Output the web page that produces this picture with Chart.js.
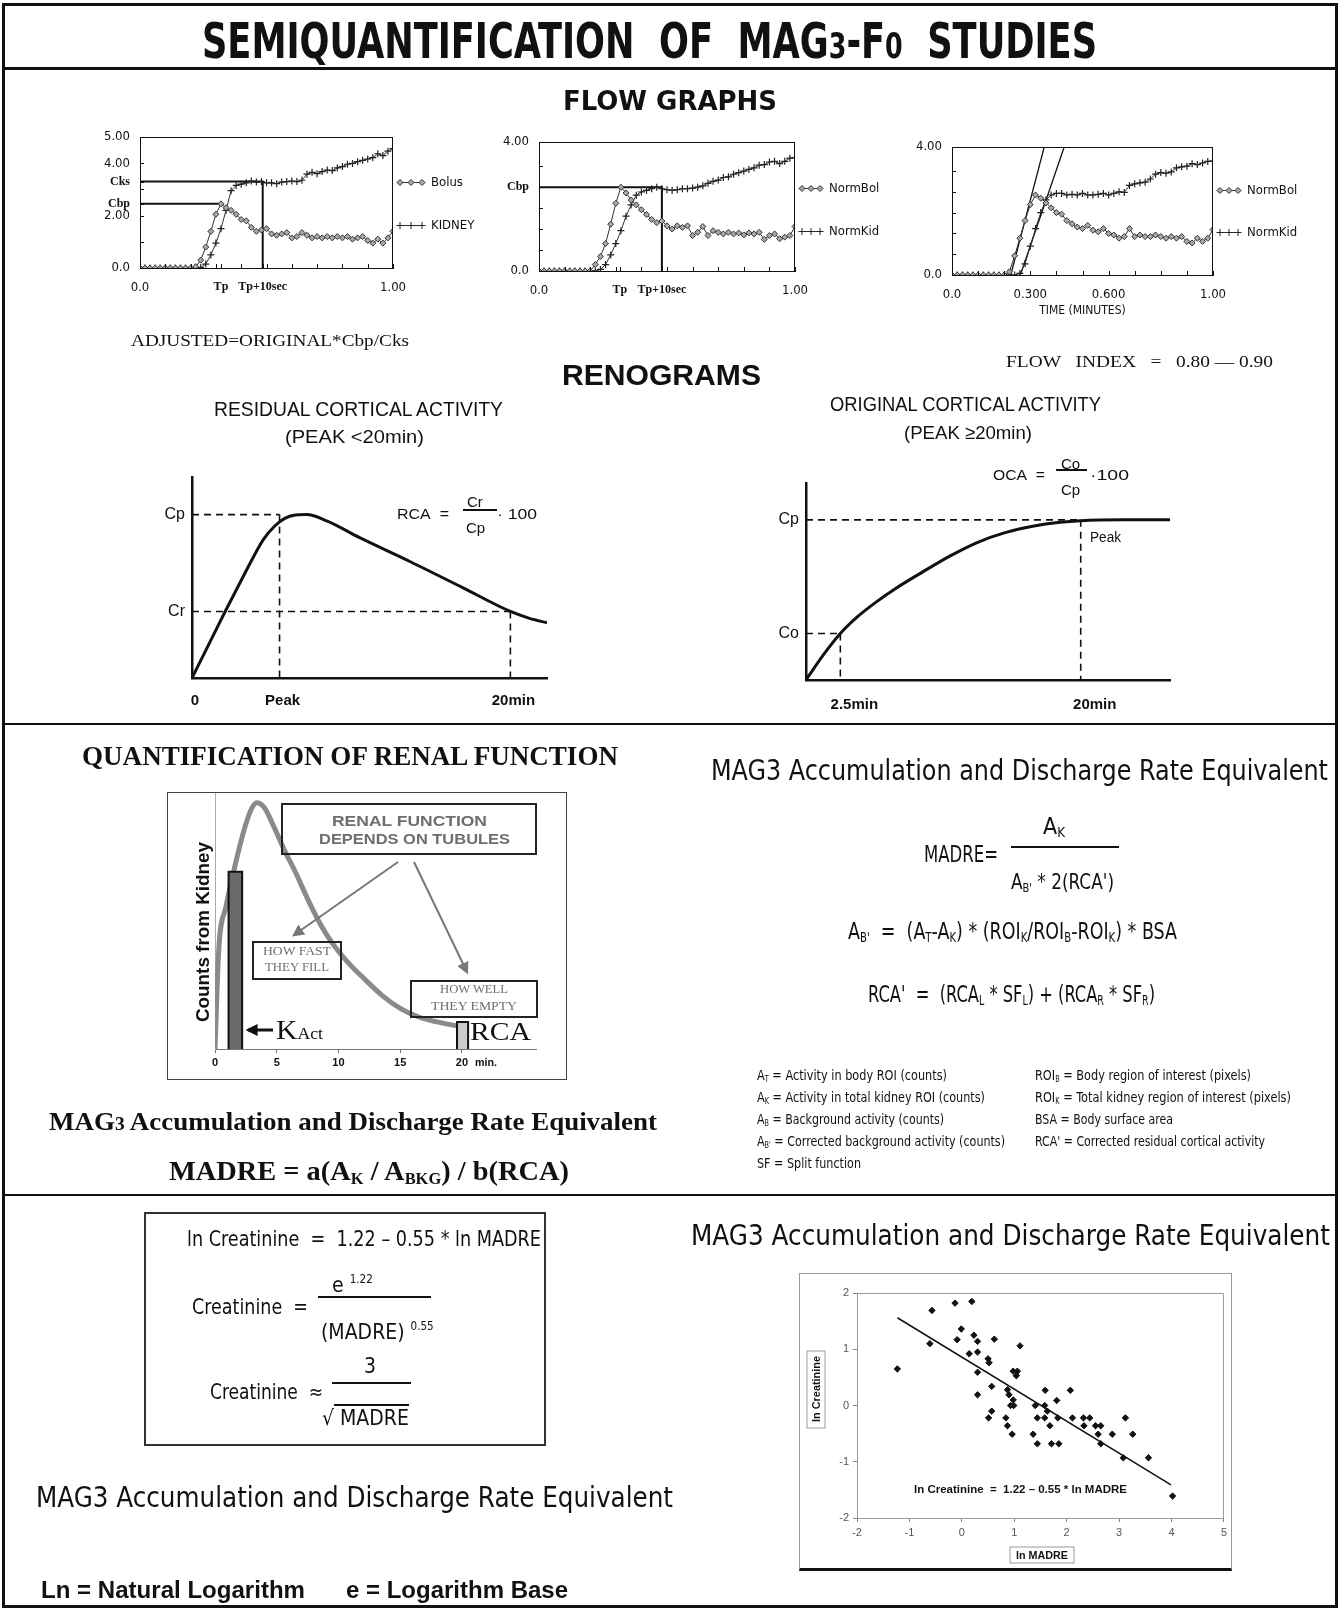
<!DOCTYPE html>
<html lang="en">
<head>
<meta charset="UTF-8">
<title>Semiquantification of MAG3-F0 Studies</title>
<script src="https://cdn.jsdelivr.net/npm/chart.js@4.4.1/dist/chart.umd.min.js"></script>
<style>
  body { margin: 0; background: #fff; }
  #page { position: relative; width: 1340px; height: 1610px; overflow: hidden; background: #fff; color: #111;
          font-family: "Liberation Sans", Arial, sans-serif; }
  #page canvas { position: absolute; }
  .t { position: absolute; white-space: nowrap; line-height: 1; transform-origin: 0 50%; }
  .t sub { font-size: 58%; vertical-align: -0.25em; line-height: 0; }
  .t sup { font-size: 55%; vertical-align: 0.75em; line-height: 0; }
  .ln { position: absolute; background: #111; }
  .frame { position: absolute; box-sizing: border-box; }
  .narrow { font-family: "Liberation Sans Narrow", "DejaVu Sans Condensed", sans-serif; font-weight: bold; }
  .sans { font-family: "Liberation Sans", Arial, sans-serif; }
  .sansb { font-family: "Liberation Sans", Arial, sans-serif; font-weight: bold; }
  .serif { font-family: "Liberation Serif", "DejaVu Serif", serif; }
  .serifb { font-family: "Liberation Serif", "DejaVu Serif", serif; font-weight: bold; }
  .tah { font-family: "DejaVu Sans Condensed", "DejaVu Sans", sans-serif; }
  .gray { color: #6e6e6e; }
</style>
</head>
<body>
<div id="page">
  <!-- outer frame and section rules -->
  <div class="frame" style="left:2px;top:3px;width:1336px;height:1605px;border:3px solid #111"></div>
  <div class="ln" style="left:2px;top:67px;width:1336px;height:3px"></div>
  <div class="ln" style="left:2px;top:723px;width:1336px;height:2px"></div>
  <div class="ln" style="left:2px;top:1194px;width:1336px;height:2px"></div>
  <div class="frame" style="left:167px;top:792px;width:400px;height:288px;border:1px solid #444"></div>
  <div class="frame" style="left:144px;top:1212px;width:402px;height:234px;border:2px solid #333"></div>
  <div class="frame" style="left:799px;top:1273px;width:433px;height:298px;border:1px solid #999;border-bottom:3px solid #111"></div>

  <canvas id="flow1" width="380" height="184" style="left:95px;top:118px"></canvas>
  <canvas id="flow2" width="400" height="184" style="left:494px;top:123px"></canvas>
  <canvas id="flow3" width="425" height="194" style="left:907px;top:128px"></canvas>
  <canvas id="reno1" width="405" height="255" style="left:150px;top:460px"></canvas>
  <canvas id="reno2" width="420" height="254" style="left:760px;top:466px"></canvas>
  <canvas id="quant" width="398" height="286" style="left:168px;top:793px"></canvas>
  <canvas id="scatter" width="431" height="292" style="left:800px;top:1274px"></canvas>

  <svg width="1340" height="1610" style="position:absolute;left:0;top:0;pointer-events:none">
    <defs>
      <marker id="ahGray" viewBox="0 0 10 10" refX="8" refY="5" markerWidth="6" markerHeight="6" orient="auto">
        <path d="M0,0 L10,5 L0,10 z" fill="#777"/>
      </marker>
      <marker id="ahBlack" viewBox="0 0 10 10" refX="8" refY="5" markerWidth="4" markerHeight="4" orient="auto">
        <path d="M0,0 L10,5 L0,10 z" fill="#111"/>
      </marker>
    </defs>
    <rect x="282" y="804" width="254" height="50" fill="none" stroke="#222" stroke-width="2"/>
    <rect x="253" y="942" width="88" height="37" fill="none" stroke="#222" stroke-width="2"/>
    <rect x="411" y="981" width="126" height="36" fill="none" stroke="#222" stroke-width="2"/>
    <line x1="398" y1="862" x2="294" y2="935" stroke="#777" stroke-width="2" marker-end="url(#ahGray)"/>
    <line x1="414" y1="862" x2="467" y2="972" stroke="#777" stroke-width="2" marker-end="url(#ahGray)"/>
    <line x1="273" y1="1030" x2="248" y2="1030" stroke="#111" stroke-width="3" marker-end="url(#ahBlack)"/>
    <rect x="1010" y="1547" width="64" height="16" fill="none" stroke="#999" stroke-width="1"/>
    <rect x="807" y="1351" width="18" height="77" fill="none" stroke="#999" stroke-width="1"/>
  </svg>
</div>

<script>
// ---------- flow graphs (time in minutes, counts) ----------
const flowTime = [0, 0.02, 0.04, 0.06, 0.08, 0.1, 0.12, 0.14, 0.16, 0.18, 0.2, 0.22, 0.24, 0.26, 0.28, 0.3,
  0.32, 0.34, 0.36, 0.38, 0.4, 0.42, 0.44, 0.46, 0.48, 0.5, 0.52, 0.54, 0.56, 0.58, 0.6, 0.62, 0.64, 0.66,
  0.68, 0.7, 0.72, 0.74, 0.76, 0.78, 0.8, 0.82, 0.84, 0.86, 0.88, 0.9, 0.92, 0.94, 0.96, 0.98, 1];
const flowMinor = [0, 0.1, 0.2, 0.3, 0.4, 0.5, 0.6, 0.7, 0.8, 0.9, 1];

const bolus1 = [0, 0, 0, 0, 0, 0, 0, 0, 0, 0, 0, 0.05, 0.3, 0.8, 1.4, 2.05, 2.45, 2.3, 2.2, 2.05, 1.85,
  1.8, 1.55, 1.4, 1.45, 1.5, 1.3, 1.25, 1.3, 1.35, 1.15, 1.2, 1.35, 1.25, 1.15, 1.2, 1.15, 1.2, 1.15, 1.2,
  1.15, 1.2, 1.1, 1.15, 1.2, 1.05, 0.95, 1.1, 0.95, 1.15, 1.4];
const kidney1 = [0, 0, 0, 0, 0, 0, 0, 0, 0, 0, 0, 0, 0.02, 0.15, 0.5, 0.95, 1.5, 2.2, 2.95, 3.15, 3.2, 3.25,
  3.32, 3.28, 3.3, 3.25, 3.25, 3.22, 3.28, 3.3, 3.32, 3.3, 3.35, 3.58, 3.65, 3.6, 3.68, 3.74, 3.72, 3.82,
  3.87, 3.96, 3.99, 4.06, 4.11, 4.16, 4.21, 4.36, 4.29, 4.46, 4.56];
const bolus2 = [0, 0, 0, 0, 0, 0, 0, 0, 0, 0, 0, 0.2, 0.45, 0.85, 1.45, 2.1, 2.6, 2.42, 2.2, 2.05, 1.9,
  1.75, 1.6, 1.5, 1.55, 1.4, 1.3, 1.4, 1.35, 1.4, 1.1, 1.2, 1.38, 1.1, 1.25, 1.2, 1.15, 1.2, 1.15, 1.18,
  1.12, 1.18, 1.15, 1.2, 0.98, 1.1, 1.15, 1.0, 1.05, 1.1, 1.38];
const kidney2 = [0, 0, 0, 0, 0, 0, 0, 0, 0, 0, 0, 0, 0.05, 0.2, 0.5, 0.85, 1.25, 1.7, 2.05, 2.35, 2.45, 2.5,
  2.55, 2.6, 2.55, 2.52, 2.5, 2.52, 2.55, 2.55, 2.57, 2.6, 2.64, 2.72, 2.78, 2.82, 2.9, 2.92, 3.0, 3.05,
  3.1, 3.15, 3.2, 3.28, 3.3, 3.38, 3.4, 3.33, 3.4, 3.5, 3.52];
const bolus3 = [0, 0, 0, 0, 0, 0, 0, 0, 0, 0, 0, 0.1, 0.6, 1.15, 1.7, 2.2, 2.5, 2.4, 2.25, 2.1, 1.95,
  1.9, 1.7, 1.6, 1.5, 1.45, 1.55, 1.4, 1.35, 1.45, 1.3, 1.25, 1.15, 1.2, 1.45, 1.2, 1.25, 1.2, 1.2, 1.25,
  1.2, 1.15, 1.2, 1.15, 1.2, 1.05, 1.0, 1.15, 1.05, 1.15, 1.42];
const kidney3 = [0, 0, 0, 0, 0, 0, 0, 0, 0, 0, 0, 0, 0, 0.05, 0.35, 0.9, 1.45, 1.95, 2.35, 2.5, 2.55, 2.55,
  2.5, 2.52, 2.5, 2.55, 2.5, 2.5, 2.52, 2.55, 2.5, 2.55, 2.6, 2.58, 2.8, 2.85, 2.88, 2.9, 3.0, 3.15,
  3.2, 3.18, 3.22, 3.35, 3.38, 3.4, 3.48, 3.45, 3.5, 3.55, 3.56];

// reference levels
const tp1 = 0.32, tp1Plus10 = 0.485, cks1 = 3.3, cbp1 = 2.45;
const tp2 = 0.316, tp2Plus10 = 0.48, cbp2 = 2.6;
const tangentAX = [0.225, 0.355], tangentAY = [0, 4.05];
const tangentBX = [0.262, 0.432], tangentBY = [0, 4.05];

// ---------- renograms (schematic, minutes vs % of peak) ----------
const rcaTime = [0, 1.0, 2.1, 3.0, 3.8, 4.5, 5.2, 5.8, 6.5, 7.2, 8.5, 10.5, 13.75, 17.0, 20.0, 21.2, 22.3];
const rcaCounts = [0, 19.5, 41, 58, 73, 85, 93, 97.5, 99.7, 100, 96, 86, 71, 55.3, 40.7, 36.5, 33.8];
const rcaPeakTime = 5.5, rcaCp = 100, rcaCr = 40.7, rcaEndTime = 20;

const ocaTime = [0, 1.25, 2.5, 3.75, 5, 6.5, 8.5, 10.5, 12.5, 14.5, 16.5, 18.5, 20, 23, 26.5];
const ocaCounts = [0, 15.5, 29, 39.5, 48, 57, 67.5, 77.5, 86, 92, 96, 98.5, 99.5, 100, 100];
const ocaCoTime = 2.5, ocaCo = 29, ocaCp = 100, ocaPeakTime = 20;

// ---------- quantification of renal function ----------
const qTime = [0, 0.3, 0.9, 1.6, 2.3, 2.9, 3.4, 4.0, 4.8, 5.6, 6.5, 7.5, 8.5, 9.5, 10.8, 12.2, 13.6, 15.0, 16.5, 18.0, 19.5, 20.2];
const qCounts = [0, 40, 58, 74, 88, 97, 100, 98, 90, 81, 72, 61, 51, 43, 35, 28, 21.5, 16.5, 13, 11, 9.5, 9];
const qTicks = [0, 5, 10, 15, 20];
const kactFrom = 1.1, kactTo = 2.2, kactHeight = 72;
const rcaFrom = 19.6, rcaTo = 20.5, rcaHeight = 11;

// ---------- ln MADRE vs ln creatinine ----------
const lnMadre = [-1.23, -0.61, -0.57, -0.13, -0.09, -0.01, 0.14, 0.19, 0.23, 0.30, 0.30, 0.30, 0.30, 0.50, 0.52,
  0.51, 0.57, 0.57, 0.62, 0.84, 0.87, 0.87, 0.90, 0.93, 0.96, 0.98, 0.99, 0.98, 1.06, 1.04, 1.11, 1.36, 1.40,
  1.44, 1.44, 1.59, 1.58, 1.58, 1.63, 1.68, 1.71, 1.81, 1.83, 1.85, 2.07, 2.11, 2.32, 2.33, 2.44, 2.55, 2.60,
  2.65, 2.65, 2.87, 3.08, 3.12, 3.26, 3.56, 4.02];
const lnCreat = [0.65, 1.10, 1.69, 1.82, 1.17, 1.36, 0.92, 1.85, 1.25, 1.14, 0.95, 0.59, 0.19, 0.83, 0.76,
  -0.22, 0.34, -0.10, 1.18, -0.22, 0.28, -0.36, 0.19, 0.0, -0.51, 0.10, 0.0, 0.61, 0.61, 0.53, 1.06, -0.51, 0.0,
  -0.22, -0.68, 0.27, 0.0, -0.22, -0.10, -0.36, -0.68, 0.09, -0.22, -0.68, 0.27, -0.22, -0.22, -0.36, -0.22,
  -0.36, -0.51, -0.36, -0.68, -0.51, -0.93, -0.22, -0.51, -0.93, -1.61];
const fitX = [-1.23, 3.99], fitY = [1.56, -1.41];
const madreTicks = [-2, -1, 0, 1, 2, 3, 4, 5];
const creatTicks = [-2, -1, 0, 1, 2];

// ---------- helpers ----------
const xy = (xs, ys) => xs.map((x, i) => ({ x: x, y: ys[i] }));
const numFont = { family: '"DejaVu Sans Condensed", sans-serif', size: 13 };
const serifTick = { family: '"Liberation Serif", serif', size: 12, weight: 'bold' };

function withMinor(minor, named) {
  const out = minor.map(v => ({ v: v, t: '' }));
  named.forEach(n => {
    const hit = out.find(o => Math.abs(o.v - n.v) < 1e-9);
    if (hit) Object.assign(hit, n); else out.push(n);
  });
  return out.sort((a, b) => a.v - b.v);
}

function marker(ctx, style, x, y) {
  ctx.beginPath();
  if (style === 'rectRot') {
    ctx.moveTo(x, y - 3); ctx.lineTo(x + 3, y); ctx.lineTo(x, y + 3); ctx.lineTo(x - 3, y); ctx.closePath();
    ctx.fillStyle = '#a8a8a8'; ctx.fill(); ctx.strokeStyle = '#333'; ctx.stroke();
  } else {
    ctx.moveTo(x - 3.5, y); ctx.lineTo(x + 3.5, y); ctx.moveTo(x, y - 3.5); ctx.lineTo(x, y + 3.5);
    ctx.strokeStyle = '#222'; ctx.stroke();
  }
}

// frame round the plot, inward tick marks and the little side legends of the flow graphs
const decor = {
  id: 'decor',
  afterDatasetsDraw(chart, args, o) {
    const { ctx, chartArea: a } = chart;
    ctx.save();
    ctx.lineWidth = 1;
    if (o.frame) {
      ctx.strokeStyle = o.frame;
      ctx.strokeRect(a.left + 0.5, a.top + 0.5, a.right - a.left - 1, a.bottom - a.top);
    }
    if (o.innerTicks) {
      ctx.strokeStyle = '#111';
      ctx.beginPath();
      chart.scales.x.ticks.forEach(t => {
        const px = Math.round(chart.scales.x.getPixelForValue(t.value)) + 0.5;
        ctx.moveTo(px, a.bottom); ctx.lineTo(px, a.bottom - 4);
      });
      chart.scales.y.ticks.forEach(t => {
        const py = Math.round(chart.scales.y.getPixelForValue(t.value)) + 0.5;
        ctx.moveTo(a.left, py); ctx.lineTo(a.left + 4, py);
      });
      ctx.stroke();
    }
    (o.legend || []).forEach(it => {
      const ds = chart.data.datasets[it.ds];
      const py = Math.round(chart.scales.y.getPixelForValue(it.y)) + 0.5;
      const x0 = a.right + o.gap;
      ctx.strokeStyle = '#333';
      ctx.beginPath(); ctx.moveTo(x0, py); ctx.lineTo(x0 + o.len, py); ctx.stroke();
      for (let k = 0; k < 3; k++) marker(ctx, ds.pointStyle, x0 + 3 + k * (o.len - 6) / 2, py);
      ctx.fillStyle = '#111'; ctx.font = o.font; ctx.textBaseline = 'middle';
      ctx.fillText(it.text, x0 + o.len + 6, py);
    });
    ctx.restore();
  }
};
Chart.register(decor);
Chart.defaults.font.family = '"Liberation Sans", Arial, sans-serif';
Chart.defaults.color = '#111';

function base(padTop, padRight, decorOpts) {
  return {
    responsive: false, animation: false, events: [],
    layout: { padding: { top: padTop, right: padRight, bottom: 0, left: 0 } },
    plugins: { legend: { display: false }, tooltip: { enabled: false }, decor: decorOpts || {} }
  };
}

function axis(o) {
  return {
    type: 'linear', min: o.min, max: o.max,
    afterBuildTicks: s => { s.ticks = o.ticks.map(t => ({ value: t.v })); },
    afterFit: s => { if (o.isY) s.width = o.size; else s.height = o.size; },
    grid: o.tickMarks ? { display: true, drawOnChartArea: false, drawTicks: true, tickLength: 4, color: o.borderColor }
                      : { display: false, drawTicks: false },
    border: { display: true, color: o.borderColor || '#111', width: o.borderWidth || 1 },
    ticks: {
      display: o.showLabels !== false, autoSkip: false, maxRotation: 0, minRotation: 0,
      padding: o.pad, labelOffset: o.labelOffset || 0, color: o.color || '#111',
      callback: (v, i) => (o.ticks[i] ? o.ticks[i].t : ''),
      font: c => (o.ticks[c.index] && o.ticks[c.index].f) || o.font
    },
    title: o.title || { display: false }
  };
}

function flowChart(id, s) {
  const datasets = [
    { data: xy(flowTime, s.bolus), borderColor: '#333', borderWidth: 1, pointStyle: 'rectRot', pointRadius: 3,
      pointBorderWidth: 1, pointBorderColor: '#333', pointBackgroundColor: '#a8a8a8' },
    { data: xy(flowTime, s.kidney), borderColor: '#333', borderWidth: 1, pointStyle: 'cross', pointRadius: 3.5,
      pointBorderWidth: 1.2, pointBorderColor: '#222' }
  ];
  s.guides.forEach(g => datasets.push({ data: xy(g[0], g[1]), borderColor: '#111', borderWidth: g[2], pointRadius: 0 }));
  const opts = base(19, s.padRight, { frame: '#111', innerTicks: true, legend: s.legend, gap: 4, len: s.len,
    font: '13px "DejaVu Sans Condensed", sans-serif' });
  opts.scales = {
    x: axis({ min: 0, max: 1, size: s.xH, ticks: s.xTicks, pad: 12, font: numFont, title: s.xTitle }),
    y: axis({ min: 0, max: s.yMax, size: 45, isY: true, ticks: s.yTicks, pad: 10, font: numFont })
  };
  new Chart(document.getElementById(id), { type: 'line', data: { datasets }, options: opts });
}

flowChart('flow1', {
  bolus: bolus1, kidney: kidney1, yMax: 5, xH: 34, padRight: 82, len: 28,
  xTicks: withMinor(flowMinor, [{ v: 0, t: '0.0' }, { v: 1, t: '1.00' },
    { v: tp1, t: 'Tp', f: serifTick }, { v: tp1Plus10, t: 'Tp+10sec', f: serifTick }]),
  yTicks: [{ v: 0, t: '0.0' }, { v: 1, t: '' }, { v: 2, t: '2.00' }, { v: cbp1, t: 'Cbp', f: serifTick },
    { v: 3, t: '' }, { v: cks1, t: 'Cks', f: serifTick }, { v: 4, t: '4.00' }, { v: 5, t: '5.00' }],
  guides: [[[0, tp1Plus10, tp1Plus10], [cks1, cks1, 0], 2], [[0, tp1], [cbp1, cbp1], 2]],
  legend: [{ ds: 0, y: 3.3, text: 'Bolus' }, { ds: 1, y: 1.65, text: 'KIDNEY' }]
});

flowChart('flow2', {
  bolus: bolus2, kidney: kidney2, yMax: 4, xH: 36, padRight: 99, len: 24,
  xTicks: withMinor(flowMinor, [{ v: 0, t: '0.0' }, { v: 1, t: '1.00' },
    { v: tp2, t: 'Tp', f: serifTick }, { v: tp2Plus10, t: 'Tp+10sec', f: serifTick }]),
  yTicks: [{ v: 0, t: '0.0' }, { v: 0.65, t: '' }, { v: 1.3, t: '' }, { v: 1.95, t: '' },
    { v: cbp2, t: 'Cbp', f: serifTick }, { v: 3.25, t: '' }, { v: 4, t: '4.00' }],
  guides: [[[0, tp2Plus10, tp2Plus10], [cbp2, cbp2, 0], 2]],
  legend: [{ ds: 0, y: 2.57, text: 'NormBol' }, { ds: 1, y: 1.24, text: 'NormKid' }]
});

flowChart('flow3', {
  bolus: bolus3, kidney: kidney3, yMax: 4, xH: 47, padRight: 119, len: 24,
  xTicks: withMinor(flowMinor, [{ v: 0, t: '0.0' }, { v: 0.3, t: '0.300' }, { v: 0.6, t: '0.600' }, { v: 1, t: '1.00' }]),
  yTicks: [{ v: 0, t: '0.0' }, { v: 0.65, t: '' }, { v: 1.3, t: '' }, { v: 1.95, t: '' },
    { v: 2.6, t: '' }, { v: 3.25, t: '' }, { v: 4, t: '4.00' }],
  guides: [[tangentAX, tangentAY, 1.3], [tangentBX, tangentBY, 1.3]],
  legend: [{ ds: 0, y: 2.66, text: 'NormBol' }, { ds: 1, y: 1.34, text: 'NormKid' }],
  xTitle: { display: true, text: 'TIME (MINUTES)', color: '#111', padding: { top: 0, bottom: 4 },
    font: { family: '"DejaVu Sans Condensed", sans-serif', size: 12 } }
});

function renoChart(id, s) {
  const datasets = [{ data: xy(s.x, s.y), borderColor: '#111', borderWidth: 3, pointRadius: 0, cubicInterpolationMode: 'monotone' }];
  s.guides.forEach(g => datasets.push({ data: xy(g[0], g[1]), borderColor: '#111', borderWidth: 1.6,
    borderDash: [7, 5], pointRadius: 0 }));
  const opts = base(17, s.padRight);
  opts.scales = {
    x: axis({ min: 0, max: s.xMax, size: s.xH, ticks: s.xTicks, pad: s.xPad, labelOffset: s.labelOffset,
      font: { size: 15, weight: 'bold' }, borderWidth: 2.5 }),
    y: axis({ min: 0, max: s.yMax, size: s.yW, isY: true, ticks: s.yTicks, pad: 7, font: { size: 16 }, borderWidth: 2.5 })
  };
  new Chart(document.getElementById(id), { type: 'line', data: { datasets }, options: opts });
}

renoChart('reno1', {
  x: rcaTime, y: rcaCounts, xMax: 22.3, yMax: 123, padRight: 8, xH: 37, yW: 42, xPad: 14, labelOffset: 3,
  xTicks: [{ v: 0, t: '0' }, { v: rcaPeakTime, t: 'Peak' }, { v: rcaEndTime, t: '20min' }],
  yTicks: [{ v: rcaCr, t: 'Cr' }, { v: rcaCp, t: 'Cp' }],
  guides: [[[0, rcaPeakTime], [rcaCp, rcaCp]], [[rcaPeakTime, rcaPeakTime], [rcaCp, 0]],
           [[0, rcaEndTime], [rcaCr, rcaCr]], [[rcaEndTime, rcaEndTime], [rcaCr, 0]]]
});

renoChart('reno2', {
  x: ocaTime, y: ocaCounts, xMax: 26.5, yMax: 123, padRight: 10, xH: 40, yW: 46, xPad: 16, labelOffset: 14,
  xTicks: [{ v: ocaCoTime, t: '2.5min' }, { v: ocaPeakTime, t: '20min' }],
  yTicks: [{ v: ocaCo, t: 'Co' }, { v: ocaCp, t: 'Cp' }],
  guides: [[[0, ocaCoTime], [ocaCo, ocaCo]], [[ocaCoTime, ocaCoTime], [ocaCo, 0]],
           [[0, ocaPeakTime], [ocaCp, ocaCp]], [[ocaPeakTime, ocaPeakTime], [ocaCp, 0]]]
});

(function () {
  const bar = (from, to, h, fill) => ({
    data: xy([from, from, to, to], [0, h, h, 0]), fill: 'origin', backgroundColor: fill,
    borderColor: '#111', borderWidth: 2, pointRadius: 0, order: 1
  });
  const opts = base(0, 30);
  opts.scales = {
    x: axis({ min: 0, max: 26, size: 30, ticks: qTicks.map(v => ({ v: v, t: String(v) })), pad: 3,
      font: { size: 11, weight: 'bold' }, borderColor: '#777', tickMarks: true }),
    y: axis({ min: 0, max: 104, size: 47, isY: true, ticks: [], showLabels: false, borderColor: '#aaa' })
  };
  new Chart(document.getElementById('quant'), {
    type: 'line',
    data: { datasets: [
      { data: xy(qTime, qCounts), borderColor: '#8a8a8a', borderWidth: 5, pointRadius: 0,
        cubicInterpolationMode: 'monotone', order: 2 },
      bar(kactFrom, kactTo, kactHeight, '#6a6a6a'),
      bar(rcaFrom, rcaTo, rcaHeight, '#c9c9c9')
    ] },
    options: opts
  });
})();

(function () {
  const opts = base(19, 4, { frame: '#999' });
  opts.scales = {
    x: axis({ min: -2, max: 5, size: 48, ticks: madreTicks.map(v => ({ v: v, t: String(v) })), pad: 4,
      font: { size: 11 }, color: '#555', borderColor: '#888', tickMarks: true }),
    y: axis({ min: -2, max: 2, size: 57, isY: true, ticks: creatTicks.map(v => ({ v: v, t: String(v) })), pad: 4,
      font: { size: 11 }, color: '#555', borderColor: '#888', tickMarks: true })
  };
  new Chart(document.getElementById('scatter'), {
    type: 'scatter',
    data: { datasets: [
      { data: xy(lnMadre, lnCreat), pointStyle: 'rectRot', pointRadius: 3.2, backgroundColor: '#111', borderColor: '#111' },
      { data: xy(fitX, fitY), showLine: true, borderColor: '#111', borderWidth: 1.5, pointRadius: 0 }
    ] },
    options: opts
  });
})();

// ---------- text ----------
const page = document.getElementById('page');
function put(cls, x, y, size, w, html) {
  const d = document.createElement('div');
  d.className = 't ' + cls;
  d.style.left = x + 'px';
  d.style.top = (y - size / 2) + 'px';
  d.style.fontSize = size + 'px';
  d.innerHTML = html;
  page.appendChild(d);
  if (w) d.style.transform = 'scaleX(' + (w / d.getBoundingClientRect().width) + ')';
  return d;
}
function putRot(cls, cx, cy, size, len, html) {
  const d = put(cls, cx, cy, size, 0, html);
  const k = len / d.getBoundingClientRect().width;
  d.style.top = cy + 'px';
  d.style.transformOrigin = '50% 50%';
  d.style.transform = 'translate(-50%,-50%) rotate(-90deg) scaleX(' + k + ')';
}
function rule(x, y, w, h) {
  const d = document.createElement('div');
  d.className = 'ln';
  d.style.cssText = 'left:' + x + 'px;top:' + y + 'px;width:' + w + 'px;height:' + h + 'px';
  page.appendChild(d);
}
const small = s => '<span style="font-size:72%">' + s + '</span>';

put('narrow', 202, 41, 50, 895, 'SEMIQUANTIFICATION&nbsp; OF&nbsp; MAG' + small('3') + '-F' + small('0') + '&nbsp; STUDIES');
put('narrow', 563, 100, 27, 214, 'FLOW GRAPHS');
put('serif', 131, 341, 16, 278, 'ADJUSTED=ORIGINAL*Cbp/Cks');
put('serif', 1006, 362, 16, 267, 'FLOW&nbsp;&nbsp; INDEX&nbsp;&nbsp; =&nbsp;&nbsp; 0.80 — 0.90');
put('sansb', 562, 375, 29, 199, 'RENOGRAMS');

put('sans', 214, 409, 20, 289, 'RESIDUAL CORTICAL ACTIVITY');
put('sans', 285, 436, 19, 139, '(PEAK &lt;20min)');
put('sans', 830, 404, 20, 271, 'ORIGINAL CORTICAL ACTIVITY');
put('sans', 904, 432, 19, 128, '(PEAK ≥20min)');
put('sans', 397, 513, 15, 52, 'RCA&nbsp; =');
put('sans', 467, 501, 15, 0, 'Cr');
rule(463, 509, 34, 2);
put('sans', 466, 527, 15, 0, 'Cp');
put('sans', 497, 513, 15, 40, '·&nbsp;100');
put('sans', 993, 474, 15, 52, 'OCA&nbsp; =');
put('sans', 1061, 463, 15, 0, 'Co');
rule(1056, 469, 31, 2);
put('sans', 1061, 489, 15, 0, 'Cp');
put('sans', 1090, 474, 15, 39, '·100');
put('sans', 1090, 537, 14, 31, 'Peak');

put('serifb', 82, 756, 27, 536, 'QUANTIFICATION OF RENAL FUNCTION');
put('sansb gray', 332, 820, 15, 155, 'RENAL FUNCTION');
put('sansb gray', 319, 838, 15, 191, 'DEPENDS ON TUBULES');
put('serif gray', 263, 951, 12, 68, 'HOW FAST');
put('serif gray', 265, 967, 12, 64, 'THEY FILL');
put('serif gray', 440, 989, 12, 68, 'HOW WELL');
put('serif gray', 431, 1006, 12, 86, 'THEY EMPTY');
put('serif', 276, 1030, 27, 47, 'K<span style="font-size:60%">Act</span>');
put('serif', 470, 1032, 26, 61, 'RCA');
put('sansb', 475, 1062, 11, 22, 'min.');
putRot('sansb', 202, 932, 19, 180, 'Counts from Kidney');
put('serifb', 49, 1121, 25, 608, 'MAG' + small('3') + ' Accumulation and Discharge Rate Equivalent');
put('serifb', 169, 1171, 27, 400, 'MADRE = a(A<sub>K</sub> / A<sub>BKG</sub>) / b(RCA)');

put('tah', 711, 770, 29, 617, 'MAG3 Accumulation and Discharge Rate Equivalent');
put('tah', 924, 854, 23, 74, 'MADRE=');
put('tah', 1043, 826, 23, 0, 'A<sub>K</sub>');
rule(1011, 846, 108, 2);
put('tah', 1011, 882, 22, 103, "A<sub>B'</sub> * 2(RCA')");
put('tah', 848, 931, 23, 329, "A<sub>B'</sub>&nbsp; =&nbsp; (A<sub>T</sub>-A<sub>K</sub>) * (ROI<sub>K</sub>/ROI<sub>B</sub>-ROI<sub>K</sub>) * BSA");
put('tah', 868, 994, 23, 287, "RCA'&nbsp; =&nbsp; (RCA<sub>L</sub> * SF<sub>L</sub>) + (RCA<sub>R</sub> * SF<sub>R</sub>)");
put('tah', 757, 1075, 14, 190, 'A<sub>T</sub> = Activity in body ROI (counts)');
put('tah', 757, 1097, 14, 228, 'A<sub>K</sub> = Activity in total kidney ROI (counts)');
put('tah', 757, 1119, 14, 187, 'A<sub>B</sub> = Background activity (counts)');
put('tah', 757, 1141, 14, 248, "A<sub>B'</sub> = Corrected background activity (counts)");
put('tah', 757, 1163, 14, 104, 'SF = Split function');
put('tah', 1035, 1075, 14, 216, 'ROI<sub>B</sub> = Body region of interest (pixels)');
put('tah', 1035, 1097, 14, 256, 'ROI<sub>K</sub> = Total kidney region of interest (pixels)');
put('tah', 1035, 1119, 14, 138, 'BSA = Body surface area');
put('tah', 1035, 1141, 14, 230, "RCA' = Corrected residual cortical activity");

put('tah', 187, 1239, 21, 354, 'ln Creatinine&nbsp; =&nbsp; 1.22 – 0.55 * ln MADRE');
put('tah', 192, 1307, 21, 116, 'Creatinine&nbsp; =');
put('tah', 332, 1285, 21, 0, 'e <sup>1.22</sup>');
rule(318, 1296, 113, 2);
put('tah', 321, 1332, 21, 0, '(MADRE) <sup>0.55</sup>');
put('tah', 210, 1392, 21, 113, 'Creatinine&nbsp; ≈');
put('tah', 364, 1366, 21, 0, '3');
rule(332, 1382, 79, 2);
put('tah', 322, 1418, 21, 0, '√<span style="border-top:2px solid #111">&nbsp;MADRE</span>');
put('tah', 36, 1497, 29, 637, 'MAG3 Accumulation and Discharge Rate Equivalent');
put('sansb', 41, 1590, 23, 264, 'Ln = Natural Logarithm');
put('sansb', 346, 1590, 23, 222, 'e = Logarithm Base');

put('tah', 691, 1235, 29, 639, 'MAG3 Accumulation and Discharge Rate Equivalent');
put('sansb', 914, 1489, 11, 213, 'ln Creatinine&nbsp; =&nbsp; 1.22 – 0.55 * ln MADRE');
put('sansb', 1016, 1555, 11, 52, 'ln MADRE');
putRot('sansb', 816, 1389, 11, 66, 'ln Creatinine');
</script>
</body>
</html>
